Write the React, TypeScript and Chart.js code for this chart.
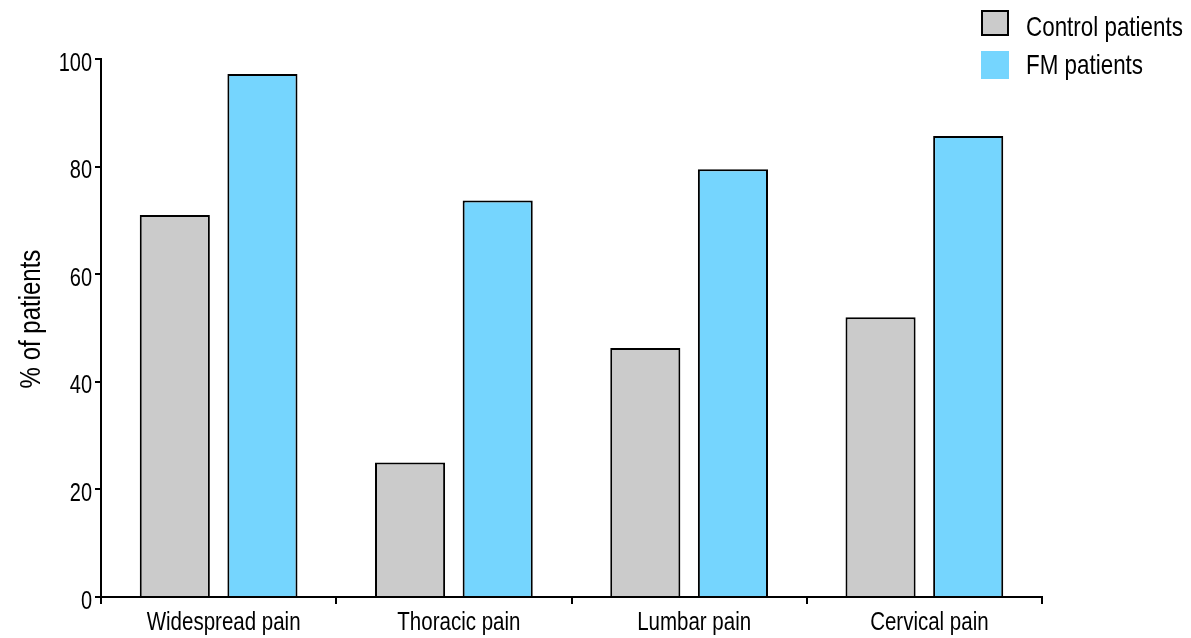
import React, { useEffect, useRef } from "react";
import { Chart, registerables } from "chart.js";

Chart.register(...registerables);

const categories = ["Widespread pain", "Thoracic pain", "Lumbar pain", "Cervical pain"];
const controlValues = [71, 25, 46.3, 52];
const fmValues = [97.2, 73.7, 79.5, 85.7];
const seriesLabels = ["Control patients", "FM patients"];
const yTicks = [0, 20, 40, 60, 80, 100];
const yTitle = "% of patients";

const SANS = "'Liberation Sans', Arial, Helvetica, sans-serif";
const SQUEEZE = 0.8;
const GREY = "#cbcbcb";
const BLUE = "#75d5fe";

function squeezedText(ctx: any, text: string, x: number, y: number, align: string, size: number, rotate = 0, squeeze = SQUEEZE) {
  ctx.save();
  ctx.translate(x, y);
  if (rotate) ctx.rotate(rotate);
  ctx.scale(squeeze, 1);
  ctx.font = `${size}px ${SANS}`;
  ctx.fillStyle = "#000";
  ctx.textAlign = align;
  ctx.textBaseline = "alphabetic";
  ctx.fillText(text, 0, 0);
  ctx.restore();
}

const textPlugin = {
  id: "narrowText",
  afterDraw(chart: any) {
    const ctx = chart.ctx;
    const xs = chart.scales.x;
    const ys = chart.scales.y;
    (chart.data.labels as string[]).forEach((lab, i) => {
      const x = xs.getPixelForTick(i) + 5;
      squeezedText(ctx, lab, x, 630, "center", 25, 0, 0.82);
    });
    yTicks.forEach((v) => {
      const y = ys.getPixelForValue(v);
      squeezedText(ctx, String(v), 92, y + 11.5, "right", 25);
    });
    const midY = (ys.top + ys.bottom) / 2 - 9;
    squeezedText(ctx, yTitle, 40, midY, "center", 30, -Math.PI / 2);
    const boxX = 981;
    const rows = [
      { y: 10, h: 26, baseline: 35.5 },
      { y: 51, h: 28, baseline: 74 },
    ];
    chart.data.datasets.forEach((d: any, i: number) => {
      const r = rows[i];
      ctx.save();
      ctx.fillStyle = d.backgroundColor;
      ctx.fillRect(boxX, r.y, 28, r.h);
      if (i === 0) {
        ctx.strokeStyle = "#000";
        ctx.lineWidth = 2;
        ctx.strokeRect(boxX + 1, r.y + 1, 26, r.h - 2);
      }
      ctx.restore();
      squeezedText(ctx, d.label, 1026, r.baseline, "left", 28);
    });
  },
};

export default function App() {
  const ref = useRef<HTMLCanvasElement>(null);
  useEffect(() => {
    if (!ref.current) return;
    const chart = new Chart(ref.current, {
      type: "bar",
      data: {
        labels: categories,
        datasets: [
          {
            label: seriesLabels[0],
            data: controlValues,
            backgroundColor: GREY,
            borderColor: "#000",
            borderWidth: 2,
            categoryPercentage: 0.745,
            barPercentage: 0.8,
          },
          {
            label: seriesLabels[1],
            data: fmValues,
            backgroundColor: BLUE,
            borderColor: "#000",
            borderWidth: 2,
            categoryPercentage: 0.745,
            barPercentage: 0.8,
          },
        ],
      },
      options: {
        responsive: false,
        animation: false,
        layout: { padding: { top: 59, right: 149, left: 0, bottom: 0 } },
        plugins: { legend: { display: false }, tooltip: { enabled: false } },
        scales: {
          x: {
            grid: { offset: true, drawOnChartArea: false, tickLength: 7, color: "#000", lineWidth: 2 },
            border: { color: "#000", width: 2 },
            ticks: { display: false },
            afterFit(scale: any) { scale.height = 41; },
          },
          y: {
            min: 0,
            max: 100,
            afterBuildTicks(scale: any) { scale.ticks = yTicks.map((v) => ({ value: v })); },
            grid: { drawOnChartArea: false, tickLength: 6, color: "#000", lineWidth: 2 },
            border: { color: "#000", width: 2 },
            ticks: { display: false },
            title: { display: false },
            afterFit(scale: any) { scale.width = 101; },
          },
        },
      },
      plugins: [textPlugin],
    });
    return () => chart.destroy();
  }, []);
  return (
    <div style={{ position: "absolute", left: 0, top: 0, width: 1191, height: 638, background: "#fff" }}>
      <canvas ref={ref} width={1191} height={638} style={{ display: "block" }} />
    </div>
  );
}
